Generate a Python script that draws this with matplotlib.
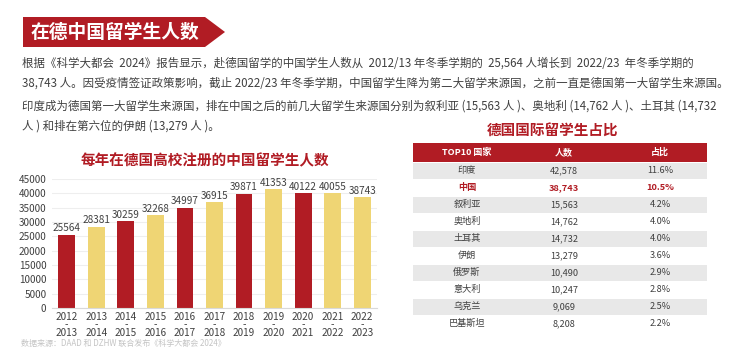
import matplotlib.pyplot as plt
from matplotlib.patches import Polygon, Rectangle
import numpy as np

plt.rcParams['font.family'] = ['Noto Sans CJK SC', 'DejaVu Sans']

# data
years = ['2012\n-\n2013', '2013\n-\n2014', '2014\n-\n2015', '2015\n-\n2016', '2016\n-\n2017',
         '2017\n-\n2018', '2018\n-\n2019', '2019\n-\n2020', '2020\n-\n2021', '2021\n-\n2022',
         '2022\n-\n2023']
students = [25564, 28381, 30259, 32268, 34997, 36915, 39871, 41353, 40122, 40055, 38743]
bar_is_red = [1, 0, 1, 0, 1, 0, 1, 0, 1, 0, 0]

countries = ['印度', '中国', '叙利亚', '奥地利', '土耳其', '伊朗', '俄罗斯', '意大利', '乌克兰', '巴基斯坦']
counts = ['42,578', '38,743', '15,563', '14,762', '14,732', '13,279', '10,490', '10,247', '9,069', '8,208']
shares = ['11.6%', '10.5%', '4.2%', '4.0%', '4.0%', '3.6%', '2.9%', '2.8%', '2.5%', '2.2%']
table_header = ['TOP10 国家', '人数', '占比']

paragraph = [
    '根据《科学大都会  2024》报告显示，赴德国留学的中国学生人数从  2012/13 年冬季学期的  25,564 人增长到  2022/23  年冬季学期的',
    '38,743 人。因受疫情签证政策影响，截止 2022/23 年冬季学期，中国留学生降为第二大留学来源国，之前一直是德国第一大留学生来源国。',
    '印度成为德国第一大留学生来源国，排在中国之后的前几大留学生来源国分别为叙利亚 (15,563 人 )、奥地利 (14,762 人 )、土耳其 (14,732',
    '人 ) 和排在第六位的伊朗 (13,279 人 )。',
]

RED = '#b11c24'
YELLOW = '#efd574'
W, H = 729, 357

fig = plt.figure(figsize=(W / 100, H / 100), dpi=100)
fig.patch.set_facecolor('white')

# page overlay in pixel coords
bg = fig.add_axes([0, 0, 1, 1])
bg.set_xlim(0, W)
bg.set_ylim(H, 0)
bg.axis('off')

# title banner
bg.add_patch(Polygon([[23, 17], [205, 17], [225, 32], [205, 47], [23, 47]], closed=True,
                     facecolor=RED, edgecolor='none'))
bg.text(31, 32.5, '在德中国留学生人数', color='white', fontsize=13.5, fontweight='bold',
        va='center', ha='left')

line_y = [63, 83, 106, 126]
for y, line in zip(line_y, paragraph):
    bg.text(22, y, line, fontsize=8.25, color='#404040', va='center', ha='left')

# bar chart title and source
bg.text(205, 160, '每年在德国高校注册的中国留学生人数', color=RED, fontsize=10.5,
        fontweight='bold', ha='center', va='center')
bg.text(21, 343, '数据来源：DAAD 和 DZHW 联合发布《科学大都会 2024》', color='#c4c4c4',
        fontsize=5.8, ha='left', va='center')

# table
bg.text(553, 131, '德国国际留学生占比', color=RED, fontsize=10.5, fontweight='bold',
        ha='center', va='center')
tx0, tx1 = 413, 707
col_x = [467, 564, 660]
bg.add_patch(Rectangle((tx0, 143), tx1 - tx0, 19, facecolor=RED, edgecolor='none'))
for cx, h in zip(col_x, table_header):
    bg.text(cx, 152.5, h, color='white', fontsize=6.5, fontweight='bold', ha='center', va='center')
row_h = 17
for i in range(len(countries)):
    y0 = 162 + i * row_h
    if i % 2 == 0:
        bg.add_patch(Rectangle((tx0, y0 + 0.5), tx1 - tx0, row_h - 1, facecolor='#e8e8e8',
                               edgecolor='none'))
    is_cn = countries[i] == '中国'
    col = RED if is_cn else '#404040'
    fw = 'bold' if is_cn else 'normal'
    for cx, val in zip(col_x, [countries[i], counts[i], shares[i]]):
        bg.text(cx, y0 + row_h / 2, val, color=col, fontweight=fw, fontsize=6.6,
                ha='center', va='center')

# bar chart
ax = fig.add_axes([52 / W, (H - 308) / H, (377 - 52) / W, 129 / H])
x = np.arange(len(students))
colors = [RED if r else YELLOW for r in bar_is_red]
ax.bar(x, students, width=0.57, color=colors, zorder=2)
for xi, v in zip(x, students):
    ax.text(xi, v + 500, str(v), ha='center', va='bottom', fontsize=7.2, color='#404040')
ax.set_xlim(-0.5, len(students) - 0.5)
ax.set_ylim(0, 45000)
ax.set_yticks(np.arange(0, 45001, 5000))
ax.tick_params(axis='y', length=0, labelsize=7.2, labelcolor='#404040', pad=4)
ax.set_xticks(x)
ax.set_xticklabels(years, fontsize=7.2, color='#404040', linespacing=0.72)
ax.tick_params(axis='x', length=0, pad=3)
ax.grid(axis='y', color='#eeeeee', linewidth=0.8, zorder=0)
for s in ['top', 'right', 'left']:
    ax.spines[s].set_visible(False)
ax.spines['bottom'].set_color('#d9d9d9')
ax.spines['bottom'].set_linewidth(0.8)

fig.savefig('out.png', dpi=100)
